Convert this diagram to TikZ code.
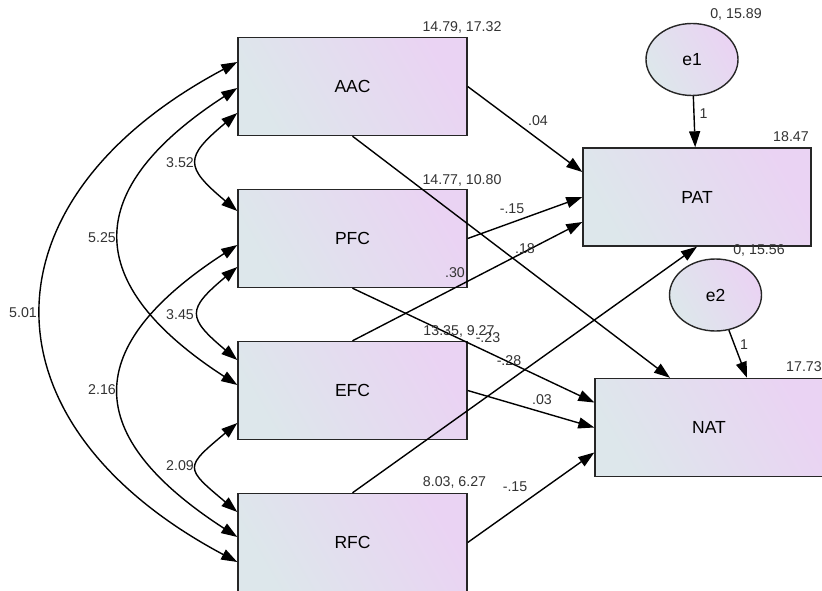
\documentclass[tikz,border=0pt]{standalone}
\usepackage{fontspec}
\setmainfont{Liberation Sans}
\usetikzlibrary{arrows.meta}
\usetikzlibrary{shapes.geometric}
\usetikzlibrary{positioning}
\definecolor{boxL}{RGB}{221,231,235}
\definecolor{boxR}{RGB}{234,211,243}
\tikzstyle{obs} = [rectangle, draw=black!85, line width=1.4pt, minimum width=229pt, minimum height=98pt, inner sep=0pt, left color=boxL, right color=boxR, shading angle=120, font=\fontsize{17.5}{17.5}\selectfont]
\tikzstyle{err} = [ellipse, draw=black!85, line width=1.4pt, minimum width=92pt, minimum height=72pt, inner sep=0pt, left color=boxL, right color=boxR, shading angle=120, font=\fontsize{17.5}{17.5}\selectfont]
\tikzstyle{reg} = [line width=1.4pt, -{Triangle[length=16pt,width=11pt]}]
\tikzstyle{cov} = [line width=1.4pt, {Triangle[length=16pt,width=11pt]}-{Triangle[length=16pt,width=11pt]}]
\tikzstyle{est} = [font=\fontsize{14.2}{14.2}\selectfont, text=black!80, inner sep=0pt]

\begin{document}
\begin{tikzpicture}[x=1pt, y=-1pt, node distance=152pt]
		\useasboundingbox (0,0) rectangle (822,591);
		% observed variables
		\node (AAC) [obs] at (352.5,86.5) {AAC};
		\node (PFC) [obs, below of=AAC] {PFC};
		\node (EFC) [obs, below of=PFC] {EFC};
		\node (RFC) [obs, below of=EFC] {RFC};
		\node (PAT) [obs, minimum width=228pt] at (697,197) {PAT};
		\node (NAT) [obs, minimum width=228pt] at (709,427.5) {NAT};
		\node (e1) [err] at (692,59.5) {e1};
		\node (e2) [err] at (715.5,295) {e2};
		% paths
		\draw [reg] (AAC.east) -- ([yshift=25pt]PAT.west);
		\draw [reg] (PFC.east) -- (PAT.west);
		\draw [reg] (EFC.north) -- ([yshift=-25pt]PAT.west);
		\draw [reg] (RFC.north) -- (PAT.south);
		\draw [reg] (AAC.south) -- ([xshift=-39pt]NAT.north);
		\draw [reg] (PFC.south) -- ([yshift=25pt]NAT.west);
		\draw [reg] (EFC.east) -- (NAT.west);
		\draw [reg] (RFC.east) -- ([yshift=-25pt]NAT.west);
		\draw [reg] (e1) -- node [est, right, xshift=5pt, pos=0.35] {1} (PAT);
		\draw [reg] (e2) -- node [est, right, xshift=5pt, pos=0.3] {1} ([xshift=38pt]NAT.north);
		% covariances
		\draw [cov] ([yshift=24.5pt]AAC.west) to [out=208, in=152, looseness=1.51] ([yshift=-19.5pt]RFC.west);
		\draw [cov] ([yshift=-1.5pt]AAC.west) to [out=213, in=147, looseness=1.61] ([yshift=5.5pt]EFC.west);
		\draw [cov] ([yshift=-6.5pt]PFC.west) to [out=213, in=147, looseness=1.64] ([yshift=5.5pt]RFC.west);
		\draw [cov] ([yshift=-26.5pt]AAC.west) to [out=220, in=140, looseness=1.81] ([yshift=27.5pt]PFC.west);
		\draw [cov] ([yshift=-28.5pt]PFC.west) to [out=220, in=140, looseness=1.82] ([yshift=30.5pt]EFC.west);
		\draw [cov] ([yshift=-32.5pt]EFC.west) to [out=220, in=140, looseness=2.0] ([yshift=30.5pt]RFC.west);
		% estimates
		\node (mAAC) [est] at (462,27.5) {14.79, 17.32};
		\node (mPFC) [est] at (462,180) {14.77, 10.80};
		\node (mEFC) [est] at (459,331) {13.35, 9.27};
		\node (mRFC) [est] at (454.5,482) {8.03, 6.27};
		\node (ve1) [est] at (736,14) {0, 15.89};
		\node (ve2) [est] at (759,250) {0, 15.56};
		\node (rPAT) [est] at (791,137) {18.47};
		\node (rNAT) [est] at (804,367) {17.73};
		\node (b1) [est] at (538,121) {.04};
		\node (b2) [est] at (512,209) {-.15};
		\node (b3) [est] at (525,249) {.18};
		\node (b4) [est] at (455,273) {.30};
		\node (b5) [est] at (488,338) {-.23};
		\node (b6) [est] at (509,361) {-.28};
		\node (b7) [est] at (542,400) {.03};
		\node (b8) [est] at (515,487) {-.15};
		\node (c1) [est] at (180,163) {3.52};
		\node (c2) [est] at (102,238) {5.25};
		\node (c3) [est] at (23,313) {5.01};
		\node (c4) [est] at (180,315) {3.45};
		\node (c5) [est] at (102,390) {2.16};
		\node (c6) [est] at (180,466) {2.09};
\end{tikzpicture}
\end{document}
